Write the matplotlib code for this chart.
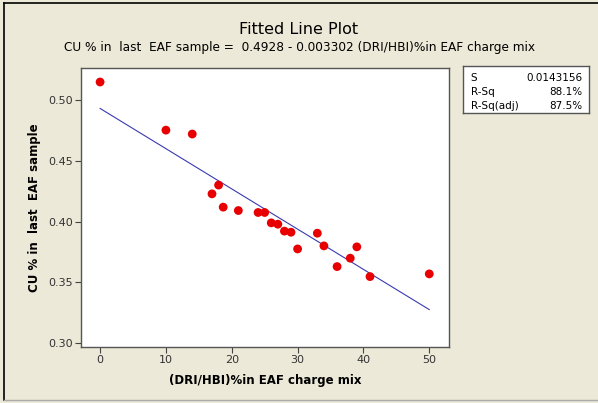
import numpy as np
import matplotlib
matplotlib.use('Agg')
import matplotlib.pyplot as plt
from matplotlib.lines import Line2D

# DRI/HBI share in the EAF charge mix (%) and copper in last EAF sample (%)
dri_pct = [0, 10, 14, 17, 18, 18.7, 21, 24, 25, 26, 27, 28, 29, 30, 33, 34, 36, 38, 39, 41, 50]
cu_pct = [0.5145, 0.475, 0.4718, 0.4227, 0.4299, 0.4118, 0.4090, 0.4074, 0.4074, 0.3989, 0.3978,
          0.3921, 0.3912, 0.3775, 0.3904, 0.3800, 0.3630, 0.3699, 0.3792, 0.3548, 0.3570]

intercept = 0.4928
slope = -0.003302
stats_names = ['S', 'R-Sq', 'R-Sq(adj)']
stats_values = ['0.0143156', '88.1%', '87.5%']

bg = '#ece9d8'
fig = plt.figure(figsize=(5.98, 4.03), dpi=100, facecolor=bg)
ax = fig.add_axes([81/598, 1-347/403, (449-81)/598, (347-68)/403])
ax.set_facecolor('white')

xs = np.array([0, 50])
ax.plot(xs, intercept + slope*xs, color='#3a3ab0', lw=0.8, zorder=2)
ax.scatter(dri_pct, cu_pct, s=40, color='#e80000', edgecolors='none', zorder=3)

ax.set_xlim(-2.9, 53)
ax.set_ylim(0.297, 0.526)
ax.set_xticks([0, 10, 20, 30, 40, 50])
ax.set_yticks([0.30, 0.35, 0.40, 0.45, 0.50])
ax.set_yticklabels(['0.30', '0.35', '0.40', '0.45', '0.50'])
ax.tick_params(direction='out', length=4, width=0.8, colors='#444444', labelsize=8,
               labelcolor='#333333', pad=2)
for sp in ax.spines.values():
    sp.set_color('#555555')
    sp.set_linewidth(1.0)

ax.set_xlabel('(DRI/HBI)%in EAF charge mix', fontsize=8.5, fontweight='bold', labelpad=6)
ax.set_ylabel('CU % in  last  EAF sample', fontsize=8.5, fontweight='bold', labelpad=5)

fig.text(0.5, 1-29/403, 'Fitted Line Plot', ha='center', va='center', fontsize=11.5)
fig.text(0.5, 1-48/403, 'CU % in  last  EAF sample =  0.4928 - 0.003302 (DRI/HBI)%in EAF charge mix',
         ha='center', va='center', fontsize=8.7)

# summary box on the right
bx = fig.add_axes([463/598, 1-113/403, (589-463)/598, (113-66)/403])
bx.set_facecolor('white')
bx.set_xticks([])
bx.set_yticks([])
for sp in bx.spines.values():
    sp.set_color('#555555')
    sp.set_linewidth(1.0)
for i, (n, v) in enumerate(zip(stats_names, stats_values)):
    yy = 0.75 - i*0.30
    bx.text(0.06, yy, n, transform=bx.transAxes, fontsize=7.5, va='center', ha='left')
    bx.text(0.95, yy, v, transform=bx.transAxes, fontsize=7.5, va='center', ha='right')

# outer frame of the graph window
fig.add_artist(Line2D([4/598, 4/598], [1-3/403, 1-400/403], color='black', lw=1.2))
fig.add_artist(Line2D([4/598, 1], [1-3/403, 1-3/403], color='black', lw=1.2))
fig.add_artist(Line2D([4/598, 1], [1-400/403, 1-400/403], color='#aaaaaa', lw=1.0))

fig.savefig('out.png', dpi=100, facecolor=bg)
